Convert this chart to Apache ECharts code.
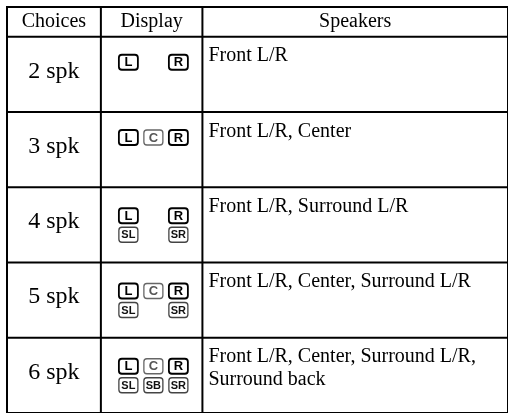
<!DOCTYPE html>
<html>
<head>
<meta charset="utf-8">
<script src="https://cdn.jsdelivr.net/npm/echarts@6/dist/echarts.min.js"></script>
<style>html,body{margin:0;padding:0;background:#fff}#c{width:508px;height:413px}</style>
</head>
<body>
<div id="c"></div>
<script>
// ---- data ----
const headers = ['Choices', 'Display', 'Speakers'];
const choices = ['2 spk', '3 spk', '4 spk', '5 spk', '6 spk'];
const displayTop = [
  ['L', '', 'R'],
  ['L', 'C', 'R'],
  ['L', '', 'R'],
  ['L', 'C', 'R'],
  ['L', 'C', 'R']
];
const displayBottom = [
  null,
  null,
  ['SL', '', 'SR'],
  ['SL', '', 'SR'],
  ['SL', 'SB', 'SR']
];
const speakers = [
  'Front L/R',
  'Front L/R, Center',
  'Front L/R, Surround L/R',
  'Front L/R, Center, Surround L/R',
  'Front L/R, Center, Surround L/R,\nSurround back'
];

// ---- layout (axis units) ----
const colEdges = [0, 98, 204, 523];
const headerSpan = 0.395;
const serif = '"Liberation Serif","Times New Roman",serif';

function iconStyle(code) {
  if (code === 'L' || code === 'R') return {stroke: '#000', lw: 1.8, fill: '#000', font: 'bold 13px "Liberation Sans",Arial,sans-serif'};
  if (code === 'C') return {stroke: '#666', lw: 1.3, fill: '#555', font: 'bold 13px "Liberation Sans",Arial,sans-serif'};
  return {stroke: '#444', lw: 1.3, fill: '#111', font: 'bold 11px "Liberation Sans Narrow","Arial Narrow","Liberation Sans",sans-serif'};
}

function renderItem(params, api) {
  const idx = api.value(1);
  const yTop = idx < 0 ? -headerSpan : idx;
  const yBot = idx < 0 ? 0 : idx + 1;
  const pTL = api.coord([colEdges[0], yTop]);
  const pBR = api.coord([colEdges[3], yBot]);
  const children = [];
  const lineStyle = {stroke: '#000', lineWidth: 2};
  // top line
  children.push({type: 'line', shape: {x1: pTL[0] - 1, y1: pTL[1], x2: pBR[0], y2: pTL[1]}, style: lineStyle});
  if (idx === choices.length - 1) {
    children.push({type: 'line', shape: {x1: pTL[0] - 1, y1: pBR[1], x2: pBR[0], y2: pBR[1]}, style: lineStyle});
  }
  const xs = colEdges.map(c => api.coord([c, yTop])[0]);
  xs.forEach(x => children.push({type: 'line', shape: {x1: x, y1: pTL[1], x2: x, y2: pBR[1]}, style: lineStyle}));
  const yMid = (pTL[1] + pBR[1]) / 2;
  if (idx < 0) {
    headers.forEach((h, i) => {
      children.push({type: 'text', style: {text: h, x: (xs[i] + xs[i + 1]) / 2, y: yMid, align: 'center', verticalAlign: 'middle', font: '20px ' + serif, fill: '#000'}});
    });
  } else {
    children.push({type: 'text', style: {text: choices[idx], x: (xs[0] + xs[1]) / 2, y: yMid - 3, align: 'center', verticalAlign: 'middle', font: '24px ' + serif, fill: '#000'}});
    children.push({type: 'text', style: {text: speakers[idx], x: xs[2] + 6, y: pTL[1] + 8, align: 'left', verticalAlign: 'top', font: '20px ' + serif, lineHeight: 23, fill: '#000'}});
    const lines = displayBottom[idx] ? [displayTop[idx], displayBottom[idx]] : [displayTop[idx]];
    const offs = lines.length === 1 ? [18] : [21, 40];
    lines.forEach((codes, li) => {
      codes.forEach((code, si) => {
        if (!code) return;
        const st = iconStyle(code);
        const x = xs[1] + 18 + si * 25;
        const y = pTL[1] + offs[li];
        children.push({type: 'rect', shape: {x: x, y: y, width: 19, height: 15, r: 3}, style: {fill: '#fff', stroke: st.stroke, lineWidth: st.lw}});
        children.push({type: 'text', style: {text: code, x: x + 9.5, y: y + 8, align: 'center', verticalAlign: 'middle', font: st.font, fill: st.fill}});
      });
    });
  }
  return {type: 'group', children: children};
}

const rowData = [[0, -1]].concat(choices.map((c, i) => [0, i]));

const chart = echarts.init(document.getElementById('c'), null, {renderer: 'canvas'});
chart.setOption({
  animation: false,
  grid: {left: 7, top: 7, width: 523, height: 410},
  xAxis: {type: 'value', min: colEdges[0], max: colEdges[3], show: false},
  yAxis: {type: 'value', min: -headerSpan, max: choices.length, inverse: true, show: false},
  series: [{
    type: 'custom',
    coordinateSystem: 'cartesian2d',
    renderItem: renderItem,
    encode: {x: 0, y: 1},
    clip: false,
    silent: true,
    data: rowData
  }]
});
</script>
</body>
</html>
